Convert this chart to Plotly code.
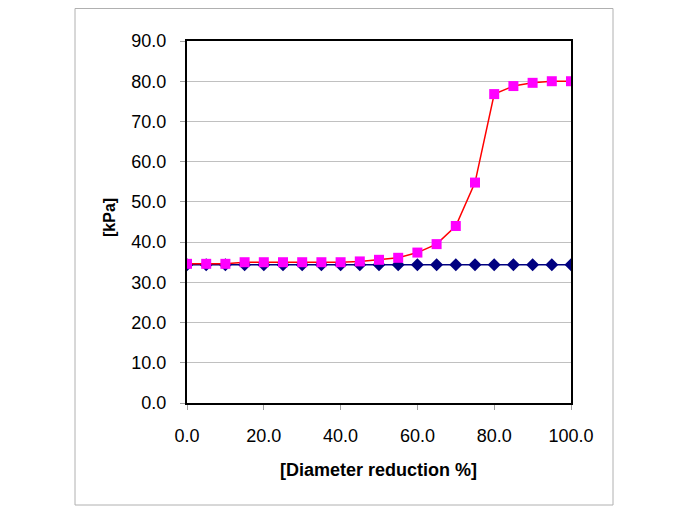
import plotly.graph_objects as go

x_vals = [0, 5, 10, 15, 20, 25, 30, 35, 40, 45, 50, 55, 60, 65, 70, 75, 80, 85, 90, 95, 100]
blue_vals = [34.4] * 21
pink_vals = [34.6, 34.6, 34.6, 35.0, 35.0, 35.0, 35.0, 35.0, 35.0, 35.2, 35.6, 36.1, 37.4, 39.5, 44.0, 54.8, 76.8, 78.8, 79.6, 80.0, 80.0]
y_ticks = [0, 10, 20, 30, 40, 50, 60, 70, 80, 90]
x_ticks = [0, 20, 40, 60, 80, 100]

# page body has an 8px margin, so figure pixel coords = screen coords - 8
OFF = 8
W, H = 685 - OFF, 513 - OFF
L, R, T, B = 187 - OFF, 571 - OFF, 41 - OFF, 403 - OFF

fig = go.Figure()
fig.add_trace(go.Scatter(x=x_vals, y=blue_vals, mode="lines+markers",
                         line=dict(color="#000080", width=1.5),
                         marker=dict(symbol="diamond", size=10, color="#000080"),
                         showlegend=False))
fig.add_trace(go.Scatter(x=x_vals, y=pink_vals, mode="lines+markers",
                         line=dict(color="#FF0000", width=1.5),
                         marker=dict(symbol="square", size=10, color="#FF00FF"),
                         showlegend=False))

font = dict(family="Liberation Sans, Arial, sans-serif", size=18, color="#000000")

fig.update_layout(
    width=W, height=H,
    margin=dict(l=L, r=W - R, t=T, b=H - B, pad=0),
    paper_bgcolor="white", plot_bgcolor="white",
    font=font,
    xaxis=dict(range=[0, 100], tickvals=x_ticks, ticktext=[f"{v:.1f}" for v in x_ticks],
               showgrid=False, zeroline=False, showline=True, linecolor="black", linewidth=2,
               mirror=True, ticks="outside", ticklen=5, tickcolor="#a0a0a0",
               ticklabelstandoff=10),
    yaxis=dict(range=[0, 90], tickvals=y_ticks, ticktext=[f"{v:.1f}" for v in y_ticks],
               showgrid=True, gridcolor="#c0c0c0", gridwidth=1, zeroline=False,
               showline=True, linecolor="black", linewidth=2, mirror=True,
               ticks="outside", ticklen=5, tickcolor="#a0a0a0",
               ticklabelstandoff=10),
)

pw, ph = R - L, B - T
# x-axis title
fig.add_annotation(text="<b>[Diameter reduction %]</b>", xref="paper", yref="paper",
                   x=(378 - OFF - L) / pw, y=(B - (470 - OFF)) / ph,
                   xanchor="center", yanchor="middle", showarrow=False,
                   font=dict(size=18))
# y-axis title
fig.add_annotation(text="<b>[kPa]</b>", xref="paper", yref="paper",
                   x=(109 - OFF - L) / pw, y=(B - (218 - OFF)) / ph,
                   xanchor="center", yanchor="middle", showarrow=False, textangle=-90,
                   font=dict(size=16))

fig.add_shape(type="rect", xref="paper", yref="paper",
              x0=(75 - OFF - L) / pw, x1=(613 - OFF - L) / pw,
              y0=(B - (505 - OFF)) / ph, y1=(B - 0.5) / ph,
              line=dict(color="#b0b0b0", width=1), fillcolor="rgba(0,0,0,0)", layer="below")

fig.write_html("out.html")
